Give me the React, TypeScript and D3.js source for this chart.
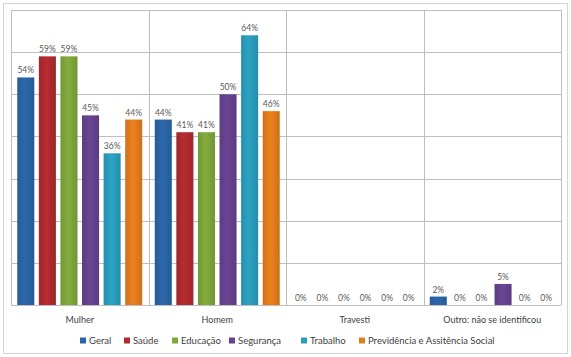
import React from "react";
import * as d3 from "d3";

const categories = ["Mulher", "Homem", "Travesti", "Outro: não se identificou"];
const seriesNames = ["Geral", "Saúde", "Educação", "Segurança", "Trabalho", "Previdência e Assitência Social"];
const geral = [54, 44, 0, 2];
const saude = [59, 41, 0, 0];
const educacao = [59, 41, 0, 0];
const seguranca = [45, 50, 0, 5];
const trabalho = [36, 64, 0, 0];
const previdencia = [44, 46, 0, 0];
const yTicks = [0, 10, 20, 30, 40, 50, 60, 70];
const colors = ["#2B64A6", "#B02A30", "#7EA63A", "#66428E", "#2A9DBD", "#E47C1E"];

const seriesValues = [geral, saude, educacao, seguranca, trabalho, previdencia];

export default function App() {
  const W = 571, H = 357;
  const left = 11, right = 561, top = 10, bottom = 305;
  const x0 = d3.scaleBand<string>().domain(categories).range([left, right]).padding(0);
  const x1 = d3.scaleBand<string>().domain(seriesNames).range([0, x0.bandwidth()]).paddingInner(0.21).paddingOuter(0.29);
  const y = d3.scaleLinear().domain([0, 70]).range([bottom, top]);
  const font = "Lato, 'Open Sans', sans-serif";
  const legendX = [80, 124, 172, 229, 301, 359];
  const legendY = 341;

  const shade = (c: string, k: number) => d3.color(c)!.darker(k).formatHex();
  const light = (c: string, k: number) => d3.color(c)!.brighter(k).formatHex();

  return (
    <svg width={W} height={H} style={{ position: "absolute", left: 0, top: 0 }}>
      <defs>
        {colors.map((c, i) => (
          <linearGradient key={i} id={`g${i}`} x1="0" x2="1" y1="0" y2="0">
            <stop offset="0" stopColor={shade(c, 0.25)} />
            <stop offset="0.45" stopColor={light(c, 0.12)} />
            <stop offset="1" stopColor={shade(c, 0.3)} />
          </linearGradient>
        ))}
      </defs>
      <rect x={0} y={0} width={W} height={H} fill="#fff" />
      <rect x={3.5} y={3.5} width={564} height={350} fill="#fff" stroke="#D4D4D4" strokeWidth={1} />
      {yTicks.map((t) => (
        <line key={t} x1={left} x2={right} y1={Math.round(y(t)) + 0.5} y2={Math.round(y(t)) + 0.5} stroke="#BEBEBE" strokeWidth={1} />
      ))}
      {categories.map((c, i) => (
        <line key={c} x1={Math.round(x0(c)!) + 0.5} x2={Math.round(x0(c)!) + 0.5} y1={top} y2={bottom} stroke="#BEBEBE" />
      ))}
      <line x1={right + 0.5} x2={right + 0.5} y1={top} y2={bottom} stroke="#BEBEBE" />
      {categories.map((c, ci) =>
        seriesNames.map((s, si) => {
          const v = seriesValues[si][ci];
          const bx = x0(c)! + x1(s)!;
          const bw = x1.bandwidth();
          return (
            <g key={c + s}>
              {v > 0 && (
                <rect x={bx} y={y(v)} width={bw} height={bottom - y(v)} fill={`url(#g${si})`} />
              )}
              <text x={bx + bw / 2} y={y(v) - 4} textAnchor="middle" fontFamily={font} fontSize={8.5} fill="#595959">
                {v}%
              </text>
            </g>
          );
        })
      )}
      {categories.map((c) => (
        <text key={c} x={x0(c)! + x0.bandwidth() / 2} y={323} textAnchor="middle" fontFamily={font} fontSize={9} fill="#404040">
          {c}
        </text>
      ))}
      {seriesNames.map((s, i) => (
        <g key={s}>
          <rect x={legendX[i]} y={legendY - 3.5} width={6} height={6} fill={colors[i]} />
          <text x={legendX[i] + 9} y={legendY + 3} fontFamily={font} fontSize={9.5} fill="#404040">
            {s}
          </text>
        </g>
      ))}
    </svg>
  );
}
